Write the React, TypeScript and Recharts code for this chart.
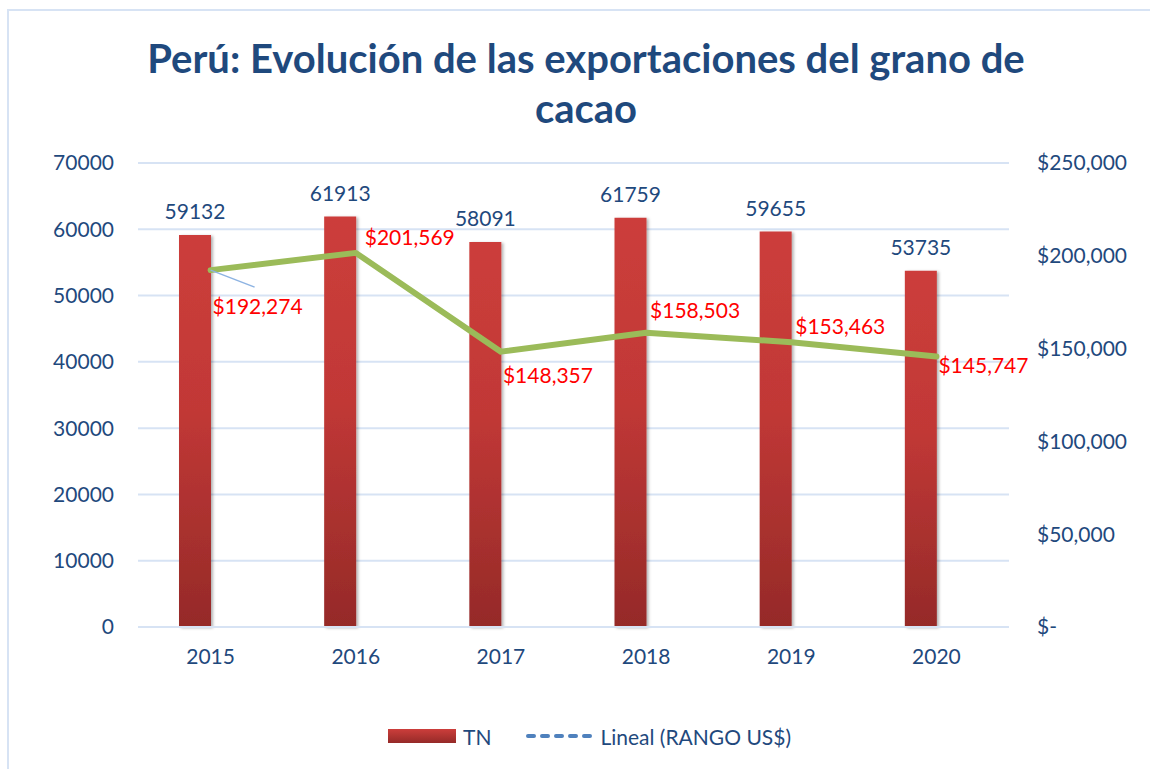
import React from 'react';
import { ComposedChart, Bar, Line, XAxis, YAxis, CartesianGrid, LabelList } from 'recharts';

const years = ['2015', '2016', '2017', '2018', '2019', '2020'];
const toneladas = [59132, 61913, 58091, 61759, 59655, 53735];
const rangoUsd = [192274, 201569, 148357, 158503, 153463, 145747];
const leftTicks = [0, 10000, 20000, 30000, 40000, 50000, 60000, 70000];
const rightTicks = [0, 50000, 100000, 150000, 200000, 250000];

const data = years.map((year, i) => ({ year, tn: toneladas[i], usd: rangoUsd[i] }));

// where each red $ label sits relative to its point [dx, dy]
const usdLabelOffsets = [
    [2, 35],
    [9, -16],
    [2, 23],
    [4, -23],
    [4, -17],
    [2, 8],
];

const FONT = 'Lato, "Open Sans", sans-serif';
const NAVY = '#1f497d';
const GRID = '#d7e3f4';

const money = (v: number) => (v === 0 ? '$-' : '$' + v.toLocaleString('en-US'));

const UsdLabel = (props: any) => {
    const x = props.x ?? props.viewBox?.x;
    const y = props.y ?? props.viewBox?.y;
    const index = props.index ?? 0;
    if (x == null || y == null) return null;
    const [dx, dy] = usdLabelOffsets[index] || [4, -16];
    return (
        <g>
            {index === 0 && <line x1={x} y1={y} x2={x + 44} y2={y + 17} stroke="#8db3e2" strokeWidth={1.5} />}
            <text x={x + dx} y={y + dy} dominantBaseline="central" fill="#ff0000" fontSize={21} fontFamily={FONT}>
                {money(Number(props.value))}
            </text>
        </g>
    );
};

const App: React.FC = () => {
    return (
        <div style={{ position: 'absolute', left: 0, top: 0, width: 1150, height: 769, background: '#fff', overflow: 'hidden', fontFamily: FONT }}>
            {/* chart frame */}
            <div style={{ position: 'absolute', left: 7, top: 9, width: 1200, height: 800, borderLeft: `2px solid ${GRID}`, borderTop: `2px solid ${GRID}` }} />
            <div style={{ position: 'absolute', left: 11, top: 33, width: 1150, textAlign: 'center', color: NAVY, fontSize: 40, fontWeight: 700, lineHeight: '50px' }}>
                Perú: Evolución de las exportaciones del grano de
                <br />
                cacao
            </div>
            <div style={{ position: 'absolute', left: 0, top: 0 }}>
                <ComposedChart width={1150} height={769} data={data} barGap={0} margin={{ top: 163, right: 0, bottom: 102, left: 0 }}>
                    <defs>
                        <linearGradient id="barFill" x1="0" y1="0" x2="0" y2="1">
                            <stop offset="0%" stopColor="#cc3e3b" />
                            <stop offset="45%" stopColor="#c13836" />
                            <stop offset="100%" stopColor="#952a28" />
                        </linearGradient>
                        <filter id="barShadow" x="-20%" y="-5%" width="150%" height="115%">
                            <feDropShadow dx="2" dy="1" stdDeviation="1.5" floodColor="#000" floodOpacity="0.3" />
                        </filter>
                    </defs>
                    <CartesianGrid vertical={false} stroke={GRID} strokeWidth={2} yAxisId="left" />
                    <XAxis
                        dataKey="year"
                        axisLine={{ stroke: GRID, strokeWidth: 2 }}
                        tickLine={false}
                        tickSize={0}
                        tickMargin={22}
                        tick={{ fill: NAVY, fontSize: 21, fontFamily: FONT }}
                        height={40}
                    />
                    <YAxis
                        yAxisId="left"
                        domain={[0, 70000]}
                        ticks={leftTicks}
                        axisLine={false}
                        tickLine={false}
                        tickSize={0}
                        tickMargin={24}
                        width={138}
                        tick={{ fill: NAVY, fontSize: 21, fontFamily: FONT }}
                    />
                    <YAxis
                        yAxisId="right"
                        orientation="right"
                        domain={[0, 250000]}
                        ticks={rightTicks}
                        axisLine={false}
                        tickLine={false}
                        tickSize={0}
                        tickMargin={28}
                        width={141}
                        tickFormatter={money}
                        tick={{ fill: NAVY, fontSize: 21, fontFamily: FONT, textAnchor: 'start' }}
                    />
                    <Bar yAxisId="left" dataKey="tn" barSize={32} fill="url(#barFill)" filter="url(#barShadow)" isAnimationActive={false}>
                        <LabelList dataKey="tn" position="top" offset={16} fill={NAVY} fontSize={21} fontFamily={FONT} />
                    </Bar>
                    {/* empty slot for the US$ series, as in the original cluster */}
                    <Bar yAxisId="right" dataKey="usd" barSize={32} fill="transparent" legendType="none" isAnimationActive={false} />
                    <Line
                        yAxisId="right"
                        dataKey="usd"
                        type="linear"
                        stroke="#9bbb59"
                        strokeWidth={6}
                        strokeLinecap="round"
                        strokeLinejoin="round"
                        dot={false}
                        activeDot={false}
                        isAnimationActive={false}
                    >
                        <LabelList dataKey="usd" content={<UsdLabel />} />
                    </Line>
                </ComposedChart>
            </div>
            {/* legend */}
            <div style={{ position: 'absolute', left: 388, top: 723, height: 26, display: 'flex', alignItems: 'center', color: NAVY, fontSize: 21 }}>
                <div style={{ width: 68, height: 14, background: 'linear-gradient(#cc3e3b, #952a28)' }} />
                <span style={{ marginLeft: 7 }}>TN</span>
                <svg width={76} height={10} style={{ marginLeft: 32 }}>
                    <line x1={5} y1={5} x2={70} y2={5} stroke="#4f81bd" strokeWidth={4} strokeDasharray="6 8" strokeLinecap="round" />
                </svg>
                <span style={{ marginLeft: 1 }}>Lineal (RANGO US$)</span>
            </div>
        </div>
    );
};

export default App;
